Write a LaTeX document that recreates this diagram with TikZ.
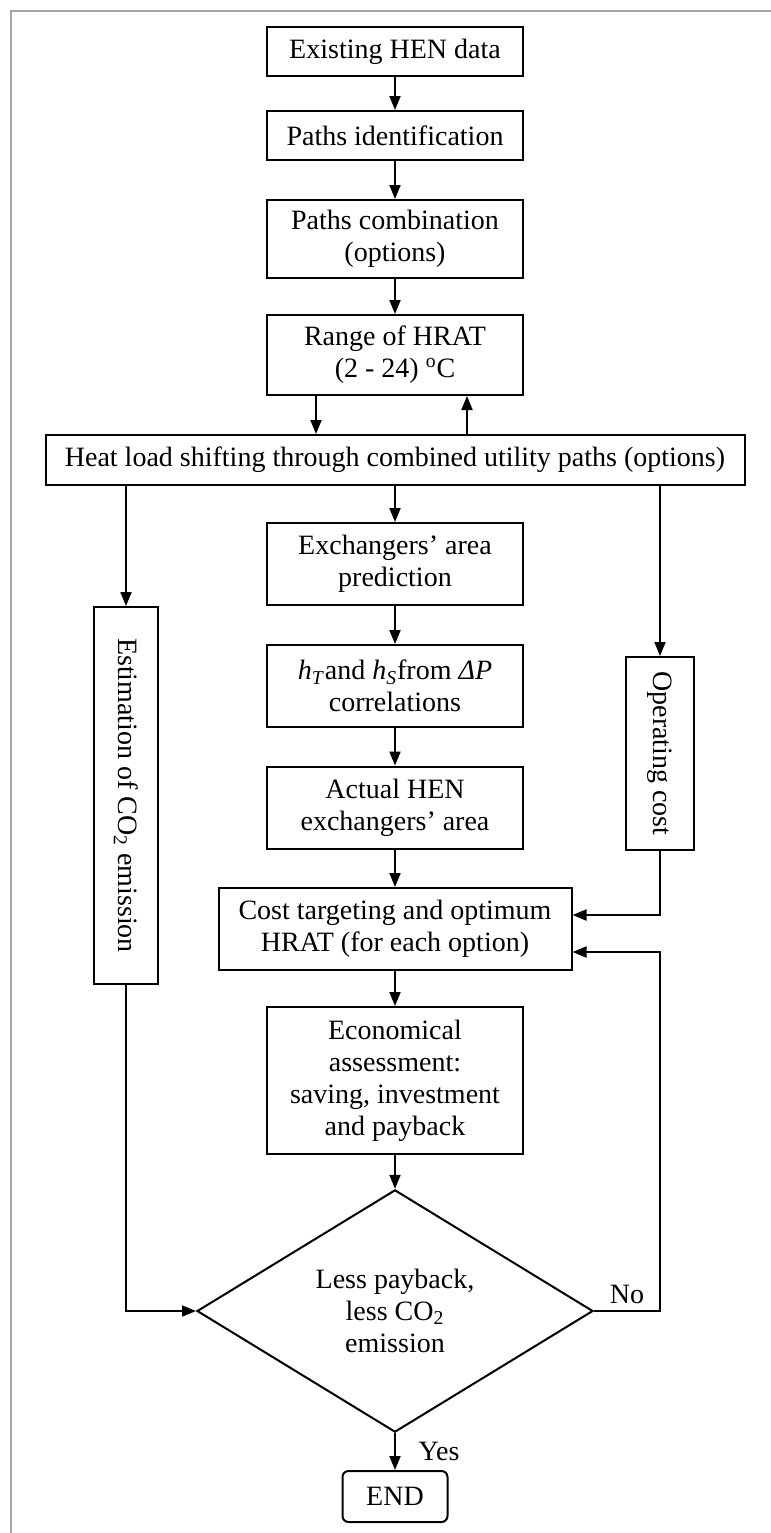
\documentclass[tikz,border=0pt]{standalone}
\usepackage{fontspec}
\setmainfont{Liberation Serif}
\usetikzlibrary{arrows.meta,shapes.geometric}

\begin{document}
\begin{tikzpicture}[x=0.5pt, y=-0.5pt,
  txt/.style={font=\fontsize{14}{16}\selectfont},
  box/.style={draw, line width=1pt, txt, align=center, inner sep=0pt,
    minimum width=128pt, minimum height=24.5pt},
  tall/.style={box, minimum height=41pt},
  side/.style={box, rotate=-90},
  arr/.style={line width=1pt, -{Triangle[length=7pt, width=5.5pt]}},
  frame/.style={black!35, line width=1pt}]
\useasboundingbox (0,0) rectangle (771,1533);
\draw[frame] (771,11) -- (11,11) -- (11,1533);
\node[box] (exist) at (395,51.5) {Existing HEN data};
\node[box] (ident) at (395,135.5) {Paths identification};
\node[tall, minimum height=39pt] (comb) at (395,239) {Paths combination\\(options)};
\node[tall, minimum height=40pt] (range) at (395,355) {Range of HRAT\\(2 - 24) \textsuperscript{o}C};
\node[box, minimum width=349.5pt, minimum height=25pt] (shift) at (395,460)
  {Heat load shifting through combined utility paths (options)};
\node[tall] (pred) at (395,564) {Exchangers’ area\\prediction};
\node[tall] (corr) at (395,686)
  {\textit{h}\textsubscript{\textit{T}}and \textit{h}\textsubscript{\textit{S}}from \textit{ΔP}\\correlations};
\node[tall] (actual) at (395,807.5) {Actual HEN\\exchangers’ area};
\node[tall, minimum width=176.5pt] (cost) at (395,929) {Cost targeting and optimum\\HRAT (for each option)};
\node[box, minimum height=73.5pt] (econ) at (395,1080.5)
  {Economical\\assessment:\\saving, investment\\and payback};
\node[diamond, draw, line width=1pt, txt, align=center, inner sep=0pt,
  minimum width=198pt, minimum height=118.5pt] (dec) at (395,1311)
  {Less payback,\\less CO\textsubscript{2}\\emission};
\node[box, rounded corners=3pt, minimum width=52.5pt, minimum height=25.5pt] (stop) at (395,1496.5) {END};
\node[side, minimum width=188.5pt, minimum height=32pt] (co2) at (126,795.5)
  {Estimation of CO\textsubscript{2} emission};
\node[side, minimum width=96.5pt, minimum height=34pt] (opc) at (660,753.5) {Operating cost};
\coordinate (dn) at (316,0);
\coordinate (up) at (467,0);
\coordinate (cin1) at ([yshift=7pt]cost.east);
\coordinate (cin2) at ([yshift=-11.5pt]cost.east);
\draw[arr] (exist) -- (ident);
\draw[arr] (ident) -- (comb);
\draw[arr] (comb) -- (range);
\draw[arr] (range.south -| dn) -- (shift.north -| dn);
\draw[arr] (shift.north -| up) -- (range.south -| up);
\draw[arr] (shift) -- (pred);
\draw[arr] (shift.south -| co2) -- (co2.west);
\draw[arr] (shift.south -| opc) -- (opc.west);
\draw[arr] (pred) -- (corr);
\draw[arr] (corr) -- (actual);
\draw[arr] (actual) -- (cost);
\draw[arr] (opc.east) |- (cin1);
\draw[arr] (cost) -- (econ);
\draw[arr] (econ) -- (dec);
\draw[arr] (co2.east) |- (dec.west);
\draw[arr] (dec.east) -- node[txt, above]{No} ++(66,0) |- (cin2);
\draw[arr] (dec) -- node[txt, right=8pt]{Yes} (stop);
\end{tikzpicture}
\end{document}
